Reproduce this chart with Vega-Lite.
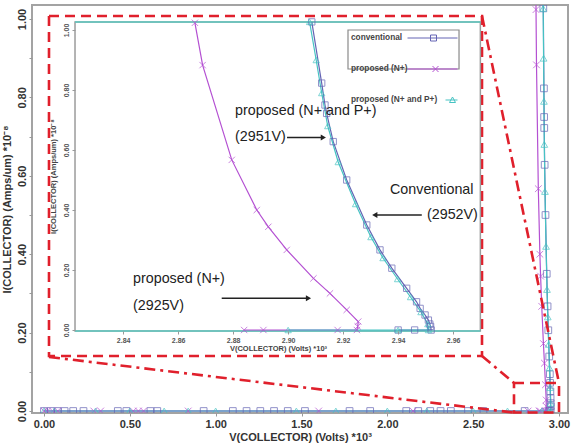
{
  "$schema": "https://vega.github.io/schema/vega-lite/v6.json",
  "width": 536,
  "height": 408,
  "autosize": {"type": "none"},
  "padding": {"left": 32, "top": 5, "right": 3, "bottom": 34},
  "background": "white",
  "config": {
    "view": {"stroke": "#a3a3a3", "strokeWidth": 2},
    "font": "Liberation Sans"
  },
  "datasets": {
    "curves": [
      {"s": "conventional", "v": 0, "i": 0},
      {"s": "conventional", "v": 0.04, "i": 0},
      {"s": "conventional", "v": 0.08, "i": 0},
      {"s": "conventional", "v": 0.12, "i": 0},
      {"s": "conventional", "v": 0.17, "i": 0},
      {"s": "conventional", "v": 0.23, "i": 0},
      {"s": "conventional", "v": 0.43, "i": 0},
      {"s": "conventional", "v": 0.48, "i": 0},
      {"s": "conventional", "v": 0.62, "i": 0},
      {"s": "conventional", "v": 0.66, "i": 0},
      {"s": "conventional", "v": 0.93, "i": 0},
      {"s": "conventional", "v": 1.1, "i": 0},
      {"s": "conventional", "v": 1.18, "i": 0},
      {"s": "conventional", "v": 1.26, "i": 0},
      {"s": "conventional", "v": 1.34, "i": 0},
      {"s": "conventional", "v": 1.42, "i": 0},
      {"s": "conventional", "v": 1.52, "i": 0},
      {"s": "conventional", "v": 1.78, "i": 0},
      {"s": "conventional", "v": 1.9, "i": 0},
      {"s": "conventional", "v": 2.11, "i": 0},
      {"s": "conventional", "v": 2.18, "i": 0},
      {"s": "conventional", "v": 2.25, "i": 0},
      {"s": "conventional", "v": 2.31, "i": 0},
      {"s": "conventional", "v": 2.37, "i": 0},
      {"s": "conventional", "v": 2.47, "i": 0},
      {"s": "conventional", "v": 2.56, "i": 0},
      {"s": "conventional", "v": 2.8, "i": 0},
      {"s": "conventional", "v": 2.94, "i": 0},
      {"s": "conventional", "v": 2.946, "i": 0},
      {"s": "conventional", "v": 2.952, "i": 0},
      {"s": "conventional", "v": 2.9518, "i": 0.012},
      {"s": "conventional", "v": 2.9515, "i": 0.02},
      {"s": "conventional", "v": 2.951, "i": 0.033},
      {"s": "conventional", "v": 2.9498, "i": 0.05},
      {"s": "conventional", "v": 2.948, "i": 0.072},
      {"s": "conventional", "v": 2.9467, "i": 0.094},
      {"s": "conventional", "v": 2.9431, "i": 0.139},
      {"s": "conventional", "v": 2.9377, "i": 0.206},
      {"s": "conventional", "v": 2.9334, "i": 0.267},
      {"s": "conventional", "v": 2.9286, "i": 0.35},
      {"s": "conventional", "v": 2.9213, "i": 0.5},
      {"s": "conventional", "v": 2.9164, "i": 0.628},
      {"s": "conventional", "v": 2.914, "i": 0.722},
      {"s": "conventional", "v": 2.9134, "i": 0.75},
      {"s": "conventional", "v": 2.9122, "i": 0.823},
      {"s": "conventional", "v": 2.9086, "i": 1.027},
      {"s": "conventional", "v": 2.906, "i": 1.1},

      {"s": "proposed (N+)", "v": 0, "i": 0},
      {"s": "proposed (N+)", "v": 0.02, "i": 0},
      {"s": "proposed (N+)", "v": 0.05, "i": 0},
      {"s": "proposed (N+)", "v": 0.08, "i": 0},
      {"s": "proposed (N+)", "v": 0.29, "i": 0},
      {"s": "proposed (N+)", "v": 0.33, "i": 0},
      {"s": "proposed (N+)", "v": 0.52, "i": 0},
      {"s": "proposed (N+)", "v": 0.55, "i": 0},
      {"s": "proposed (N+)", "v": 0.58, "i": 0},
      {"s": "proposed (N+)", "v": 0.84, "i": 0},
      {"s": "proposed (N+)", "v": 1.6, "i": 0},
      {"s": "proposed (N+)", "v": 2.15, "i": 0},
      {"s": "proposed (N+)", "v": 2.82, "i": 0},
      {"s": "proposed (N+)", "v": 2.884, "i": 0},
      {"s": "proposed (N+)", "v": 2.891, "i": 0},
      {"s": "proposed (N+)", "v": 2.918, "i": 0},
      {"s": "proposed (N+)", "v": 2.925, "i": 0},
      {"s": "proposed (N+)", "v": 2.9253, "i": 0.012},
      {"s": "proposed (N+)", "v": 2.9255, "i": 0.028},
      {"s": "proposed (N+)", "v": 2.9213, "i": 0.067},
      {"s": "proposed (N+)", "v": 2.9152, "i": 0.122},
      {"s": "proposed (N+)", "v": 2.9092, "i": 0.172},
      {"s": "proposed (N+)", "v": 2.8995, "i": 0.267},
      {"s": "proposed (N+)", "v": 2.8928, "i": 0.344},
      {"s": "proposed (N+)", "v": 2.8886, "i": 0.4},
      {"s": "proposed (N+)", "v": 2.8795, "i": 0.567},
      {"s": "proposed (N+)", "v": 2.8689, "i": 0.883},
      {"s": "proposed (N+)", "v": 2.8661, "i": 1.024},
      {"s": "proposed (N+)", "v": 2.8648, "i": 1.1},

      {"s": "proposed (N+ and P+)", "v": 0, "i": 0},
      {"s": "proposed (N+ and P+)", "v": 0.06, "i": 0},
      {"s": "proposed (N+ and P+)", "v": 0.3, "i": 0},
      {"s": "proposed (N+ and P+)", "v": 0.5, "i": 0},
      {"s": "proposed (N+ and P+)", "v": 0.7, "i": 0},
      {"s": "proposed (N+ and P+)", "v": 0.84, "i": 0},
      {"s": "proposed (N+ and P+)", "v": 1.0, "i": 0},
      {"s": "proposed (N+ and P+)", "v": 1.47, "i": 0},
      {"s": "proposed (N+ and P+)", "v": 1.7, "i": 0},
      {"s": "proposed (N+ and P+)", "v": 2.0, "i": 0},
      {"s": "proposed (N+ and P+)", "v": 2.23, "i": 0},
      {"s": "proposed (N+ and P+)", "v": 2.5, "i": 0},
      {"s": "proposed (N+ and P+)", "v": 2.7, "i": 0},
      {"s": "proposed (N+ and P+)", "v": 2.9, "i": 0},
      {"s": "proposed (N+ and P+)", "v": 2.94, "i": 0},
      {"s": "proposed (N+ and P+)", "v": 2.951, "i": 0},
      {"s": "proposed (N+ and P+)", "v": 2.9508, "i": 0.02},
      {"s": "proposed (N+ and P+)", "v": 2.9483, "i": 0.06},
      {"s": "proposed (N+ and P+)", "v": 2.9445, "i": 0.11},
      {"s": "proposed (N+ and P+)", "v": 2.9398, "i": 0.17},
      {"s": "proposed (N+ and P+)", "v": 2.9345, "i": 0.24},
      {"s": "proposed (N+ and P+)", "v": 2.9301, "i": 0.31},
      {"s": "proposed (N+ and P+)", "v": 2.9245, "i": 0.42},
      {"s": "proposed (N+ and P+)", "v": 2.9182, "i": 0.56},
      {"s": "proposed (N+ and P+)", "v": 2.9144, "i": 0.68},
      {"s": "proposed (N+ and P+)", "v": 2.9122, "i": 0.79},
      {"s": "proposed (N+ and P+)", "v": 2.9102, "i": 0.9},
      {"s": "proposed (N+ and P+)", "v": 2.9078, "i": 1.027},
      {"s": "proposed (N+ and P+)", "v": 2.9055, "i": 1.1}
    ]
  },
  "resolve": {
    "scale": {"x": "independent", "y": "independent"},
    "axis": {"x": "independent", "y": "independent"}
  },
  "layer": [
    {
      "data": {"name": "curves"},
      "layer": [
        {
          "mark": {"type": "line", "strokeWidth": 1.2, "clip": true},
          "encoding": {
            "x": {
              "field": "v", "type": "quantitative",
              "scale": {"domain": [-0.0699, 3.0524], "nice": false, "zero": false},
              "axis": {
                "orient": "bottom", "values": [0, 0.5, 1, 1.5, 2, 2.5, 3], "format": ".2f",
                "title": "V(COLLECTOR) (Volts) *10³", "domain": false, "grid": false,
                "tickSize": 3, "tickColor": "#999", "labelPadding": 2, "labelFlush": false, "labelOverlap": false,
                "labelFontSize": 11, "labelFontWeight": "bold", "labelColor": "#333",
                "titleFontSize": 11, "titleFontWeight": "bold", "titleColor": "#333", "titlePadding": 2
              }
            },
            "y": {
              "field": "i", "type": "quantitative",
              "scale": {"domain": [-0.0051, 1.0357], "nice": false, "zero": false},
              "axis": {
                "orient": "left",
                "values": [0, 0.05, 0.1, 0.15, 0.2, 0.25, 0.3, 0.35, 0.4, 0.45, 0.5, 0.55, 0.6, 0.65, 0.7, 0.75, 0.8, 0.85, 0.9, 0.95, 1],
                "labelExpr": "round(datum.value * 100) % 20 == 0 ? format(datum.value, '.2f') : ''",
                "title": "I(COLLECTOR) (Amps/um) *10⁻⁸", "domain": false, "grid": false,
                "tickSize": 3, "tickColor": "#999", "labelPadding": 2, "labelFlush": false, "labelOverlap": false,
                "labelAngle": -90, "labelAlign": "center", "labelBaseline": "bottom",
                "labelFontSize": 11, "labelFontWeight": "bold", "labelColor": "#333",
                "titleFontSize": 11, "titleFontWeight": "bold", "titleColor": "#333", "titlePadding": 4
              }
            },
            "color": {"field": "s", "type": "nominal", "legend": null,
              "scale": {"domain": ["conventional", "proposed (N+)", "proposed (N+ and P+)"], "range": ["#6464b4", "#b450d2", "#46c3c3"]}},
            "order": {"value": null}
          }
        },
        {
          "mark": {"type": "point", "filled": false, "size": 45, "strokeWidth": 1, "clip": true},
          "encoding": {
            "x": {"field": "v", "type": "quantitative"},
            "y": {"field": "i", "type": "quantitative"},
            "color": {"field": "s", "type": "nominal", "legend": null},
            "shape": {"field": "s", "type": "nominal", "legend": null,
              "scale": {"domain": ["conventional", "proposed (N+)", "proposed (N+ and P+)"], "range": ["square", "M-1,-1L1,1M-1,1L1,-1", "triangle-up"]}}
          }
        },
        {
          "data": {"values": [{}]},
          "mark": {"type": "rect", "filled": false, "stroke": "#e0202c", "strokeWidth": 2.6, "strokeDash": [10, 6]},
          "encoding": {
            "x": {"datum": 0.0291}, "x2": {"datum": 2.5514},
            "y": {"datum": 1.0077}, "y2": {"datum": 0.1403}
          }
        },
        {
          "data": {"values": [{}]},
          "mark": {"type": "rect", "filled": false, "stroke": "#e0202c", "strokeWidth": 2.6, "strokeDash": [10, 6]},
          "encoding": {
            "x": {"datum": 2.7378}, "x2": {"datum": 3.0},
            "y": {"datum": 0.0714}, "y2": {"datum": -0.004}
          }
        },
        {
          "data": {"values": [{}]},
          "mark": {"type": "rule", "stroke": "#e0202c", "strokeWidth": 2.6, "strokeDash": [11, 5, 3, 5]},
          "encoding": {
            "x": {"datum": 2.5514}, "y": {"datum": 1.0077},
            "x2": {"datum": 3.0}, "y2": {"datum": 0.0714}
          }
        },
        {
          "data": {"values": [{}]},
          "mark": {"type": "rule", "stroke": "#e0202c", "strokeWidth": 2.6, "strokeDash": [11, 5, 3, 5]},
          "encoding": {
            "x": {"datum": 0.0291}, "y": {"datum": 0.1378},
            "x2": {"datum": 2.7378}, "y2": {"datum": -0.004}
          }
        },
        {
          "data": {"values": [{}]},
          "mark": {"type": "rule", "stroke": "#e0202c", "strokeWidth": 2.6, "strokeDash": [11, 5, 3, 5]},
          "encoding": {
            "x": {"datum": 2.5514}, "y": {"datum": 0.1403},
            "x2": {"datum": 2.7378}, "y2": {"datum": 0.0714}
          }
        }
      ]
    },
    {
      "data": {"name": "curves"},
      "transform": [{"filter": "datum.v >= 2.8225 && datum.v <= 2.9699 && datum.i <= 1.03"}],
      "layer": [
        {
          "data": {"values": [{}]},
          "mark": {"type": "rect", "fill": "white", "stroke": "#9c9c9c", "strokeWidth": 1.5},
          "encoding": {
            "x": {"datum": 2.8225}, "x2": {"datum": 2.9699},
            "y": {"datum": -0.00333}, "y2": {"datum": 1.02667}
          }
        },
        {
          "data": {"values": [{}]},
          "mark": {"type": "rule", "stroke": "#5cc8c0", "strokeWidth": 1.5},
          "encoding": {
            "x": {"datum": 2.8225}, "x2": {"datum": 2.9699},
            "y": {"datum": 1.02667}
          }
        },
        {
          "data": {"values": [{}]},
          "mark": {"type": "rule", "stroke": "#5cc8c0", "strokeWidth": 1.5},
          "encoding": {
            "x": {"datum": 2.8225}, "x2": {"datum": 2.9699},
            "y": {"datum": -0.00333}
          }
        },
        {
          "mark": {"type": "line", "strokeWidth": 1.2},
          "encoding": {
            "x": {
              "field": "v", "type": "quantitative",
              "scale": {"domain": [2.80686, 3.00177], "nice": false, "zero": false},
              "axis": {
                "orient": "bottom", "offset": -82, "zindex": 1,
                "values": [2.84, 2.86, 2.88, 2.9, 2.92, 2.94, 2.96], "format": ".2f",
                "domain": false, "grid": false, "tickSize": 3, "tickColor": "#999",
                "labelPadding": 2, "labelFlush": false, "labelOverlap": false,
                "labelFontSize": 7, "labelFontWeight": "bold", "labelColor": "#555",
                "title": "V(COLLECTOR) (Volts) *10³", "titleFontSize": 7.5, "titleFontWeight": "bold", "titleColor": "#444",
                "titleX": 246, "titleY": 17, "titleAlign": "center", "titleBaseline": "middle"
              }
            },
            "y": {
              "field": "i", "type": "quantitative",
              "scale": {"domain": [-0.27667, 1.08333], "nice": false, "zero": false},
              "axis": {
                "orient": "left", "offset": -43, "zindex": 1,
                "values": [0, 0.2, 0.4, 0.6, 0.8, 1], "format": ".2f",
                "domain": false, "grid": false, "tickSize": 3, "tickColor": "#999",
                "labelPadding": 2.5, "labelFlush": false, "labelOverlap": false,
                "labelAngle": -90, "labelAlign": "center", "labelBaseline": "bottom",
                "labelFontSize": 7, "labelFontWeight": "bold", "labelColor": "#555",
                "title": "I(COLLECTOR) (Amps/um) *10⁻⁸", "titleFontSize": 7.5, "titleFontWeight": "bold", "titleColor": "#444",
                "titleX": -17.5, "titleY": 171, "titleAngle": -90, "titleAlign": "center", "titleBaseline": "bottom"
              }
            },
            "color": {"field": "s", "type": "nominal", "legend": null},
            "order": {"value": null}
          }
        },
        {
          "mark": {"type": "point", "filled": false, "size": 40, "strokeWidth": 1},
          "encoding": {
            "x": {"field": "v", "type": "quantitative"},
            "y": {"field": "i", "type": "quantitative"},
            "shape": {"field": "s", "type": "nominal", "legend": null},
            "color": {"field": "s", "type": "nominal", "legend": null}
          }
        },
        {
          "data": {"values": [{}]},
          "mark": {"type": "rect", "fill": "white", "stroke": "#8a8a8a", "strokeWidth": 1.2},
          "encoding": {
            "x": {"datum": 2.92177}, "x2": {"datum": 2.96214},
            "y": {"datum": 0.87}, "y2": {"datum": 1.0}
          }
        },
        {
          "mark": {"type": "point", "filled": false, "opacity": 0},
          "encoding": {
            "x": {"field": "v", "type": "quantitative"},
            "y": {"field": "i", "type": "quantitative"},
            "stroke": {
              "field": "s", "type": "nominal",
              "sort": ["conventional", "proposed (N+)", "proposed (N+ and P+)"],
              "scale": {"range": ["#6464b4", "#b450d2", "#46c3c3"]},
              "legend": {
                "orient": "none", "legendX": 372, "legendY": 4.5, "title": null,
                "symbolSize": 2500, "labelOffset": -107,
                "symbolStrokeWidth": 1, "symbolOpacity": 1, "symbolFillColor": "transparent",
                "symbolType": {"expr": "datum.value === 'conventional' ? 'M-1,0H1M-0.08,-0.12H0.16V0.12H-0.08Z' : datum.value === 'proposed (N+)' ? 'M-1,0H1M0,-0.12L0.24,0.12M0,0.12L0.24,-0.12' : 'M0.52,0H1M0.8,-0.12L0.92,0.1L0.68,0.1Z'"},
                "labelLimit": 300,
                "labelFontSize": 8.3, "labelFontWeight": "bold", "labelColor": "#444",
                "padding": 3, "rowPadding": -18.5
              }
            }
          }
        },
        {
          "data": {"values": [{}]},
          "mark": {"type": "text", "align": "left", "baseline": "middle", "fontSize": 14.3, "color": "#222", "text": "proposed (N+ and P+)"},
          "encoding": {"x": {"datum": 2.88068}, "y": {"datum": 0.731}}
        },
        {
          "data": {"values": [{}]},
          "mark": {"type": "text", "align": "left", "baseline": "middle", "fontSize": 14.3, "color": "#222", "text": "(2951V)"},
          "encoding": {"x": {"datum": 2.88068}, "y": {"datum": 0.6417}}
        },
        {
          "data": {"values": [{}]},
          "mark": {"type": "text", "align": "left", "baseline": "middle", "fontSize": 14.3, "color": "#222", "text": "Conventional"},
          "encoding": {"x": {"datum": 2.93705}, "y": {"datum": 0.4667}}
        },
        {
          "data": {"values": [{}]},
          "mark": {"type": "text", "align": "left", "baseline": "middle", "fontSize": 14.3, "color": "#222", "text": "(2952V)"},
          "encoding": {"x": {"datum": 2.9505}, "y": {"datum": 0.3833}}
        },
        {
          "data": {"values": [{}]},
          "mark": {"type": "text", "align": "left", "baseline": "middle", "fontSize": 14.3, "color": "#222", "text": "proposed (N+)"},
          "encoding": {"x": {"datum": 2.8436}, "y": {"datum": 0.17}}
        },
        {
          "data": {"values": [{}]},
          "mark": {"type": "text", "align": "left", "baseline": "middle", "fontSize": 14.3, "color": "#222", "text": "(2925V)"},
          "encoding": {"x": {"datum": 2.8436}, "y": {"datum": 0.08}}
        },
        {
          "data": {"values": [{}]},
          "mark": {"type": "rule", "stroke": "#222", "strokeWidth": 1.5},
          "encoding": {"x": {"datum": 2.8996}, "x2": {"datum": 2.9125}, "y": {"datum": 0.6417}}
        },
        {
          "data": {"values": [{}]},
          "mark": {"type": "point", "shape": "triangle-right", "filled": true, "size": 36, "color": "#222", "opacity": 1},
          "encoding": {"x": {"datum": 2.9128}, "y": {"datum": 0.6417}}
        },
        {
          "data": {"values": [{}]},
          "mark": {"type": "rule", "stroke": "#222", "strokeWidth": 1.5},
          "encoding": {"x": {"datum": 2.9486}, "x2": {"datum": 2.9318}, "y": {"datum": 0.3833}}
        },
        {
          "data": {"values": [{}]},
          "mark": {"type": "point", "shape": "triangle-left", "filled": true, "size": 36, "color": "#222", "opacity": 1},
          "encoding": {"x": {"datum": 2.9315}, "y": {"datum": 0.3833}}
        },
        {
          "data": {"values": [{}]},
          "mark": {"type": "rule", "stroke": "#222", "strokeWidth": 1.5},
          "encoding": {"x": {"datum": 2.87585}, "x2": {"datum": 2.9071}, "y": {"datum": 0.1057}}
        },
        {
          "data": {"values": [{}]},
          "mark": {"type": "point", "shape": "triangle-right", "filled": true, "size": 36, "color": "#222", "opacity": 1},
          "encoding": {"x": {"datum": 2.9074}, "y": {"datum": 0.1057}}
        }
      ]
    }
  ]
}
